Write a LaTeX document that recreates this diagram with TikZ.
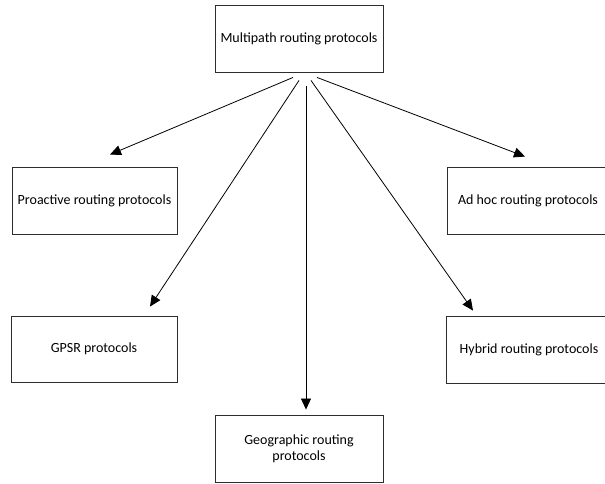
\documentclass[tikz,border=0pt]{standalone}
\usepackage{fontspec}
\setmainfont{Carlito}
\usetikzlibrary{arrows.meta,positioning}
\definecolor{boxline}{RGB}{45,45,45}

\begin{document}
\begin{tikzpicture}[x=1pt, y=-1pt,
    protobox/.style={draw=boxline, line width=0.9pt, minimum width=166pt, minimum height=67pt, font=\fontsize{14}{16}\selectfont, align=center, inner sep=0pt},
    arr/.style={-{Triangle[length=11pt,width=10pt]}, line width=0.8pt}]
        \useasboundingbox (0,0) rectangle (605,483);
        \node[protobox, minimum width=168pt] (multi) at (299,38.5) {Multipath routing protocols};
        \node[protobox, minimum width=165pt] (proact) at (94.5,200.5) {Proactive routing protocols};
        \node[protobox, minimum width=162pt] (adhoc) at (528,200.5) {Ad hoc routing protocols};
        \node[protobox, minimum height=66pt] (gpsr) at (94,349) {GPSR protocols};
        \node[protobox] (hybrid) at (529,349.5) {Hybrid routing protocols};
        \node[protobox, minimum width=168pt] (geo) at (299,448.5) {Geographic routing\\protocols};
        
        \draw[arr] ([shift={(-6,5)}]multi.south) -- ([shift={(15.5,-12)}]proact.north);
        \draw[arr] ([shift={(0,8)}]multi.south) -- ([shift={(56,-9)}]gpsr.north);
        \draw[arr] ([shift={(7,14)}]multi.south) -- ([shift={(7,-5)}]geo.north);
        \draw[arr] ([shift={(12,8)}]multi.south) -- ([shift={(-56,-5)}]hybrid.north);
        \draw[arr] ([shift={(18,5)}]multi.south) -- ([shift={(-3,-10)}]adhoc.north);
    \end{tikzpicture}
\end{document}
